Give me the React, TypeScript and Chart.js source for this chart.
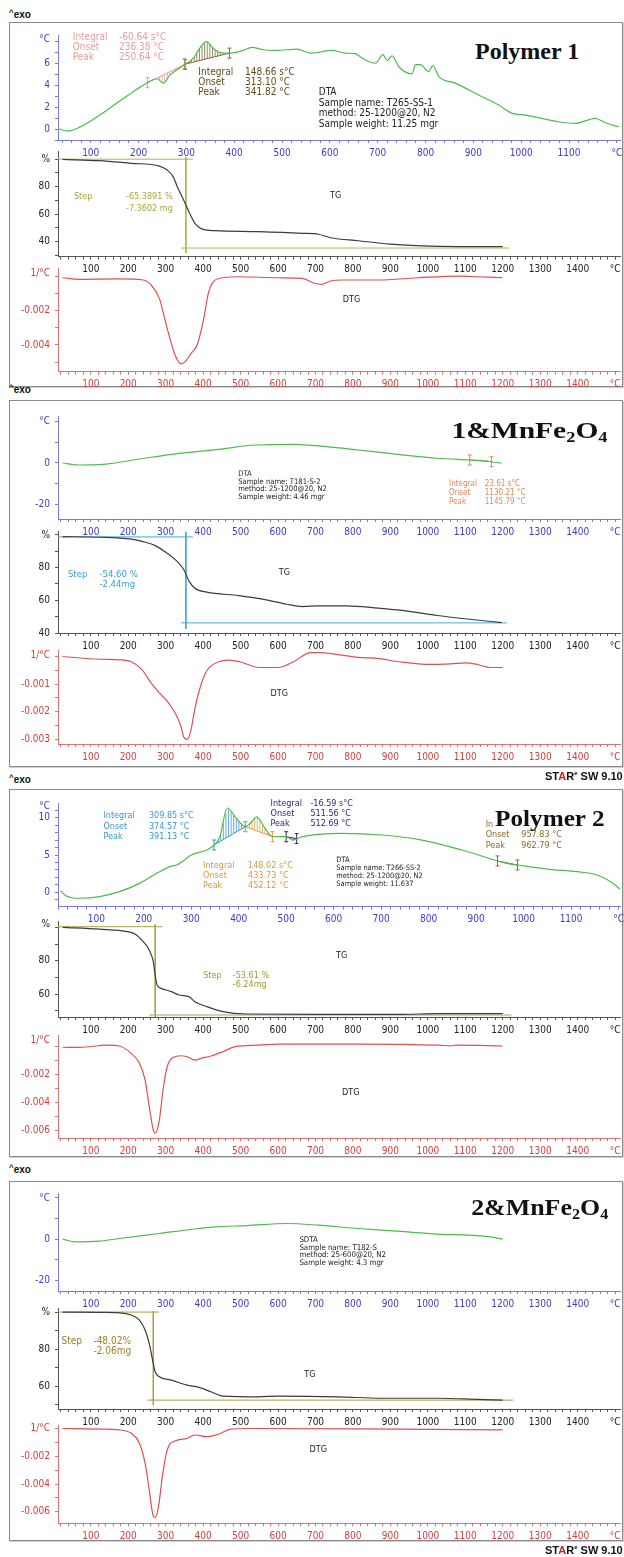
import React, { useEffect, useRef } from 'react';
import { Chart, registerables } from 'chart.js';
Chart.register(...registerables);

type Pt = [number, number];

// ---------------- Panel 1 : Polymer 1 ----------------
const P1_DTA: Pt[] = [[30, 0.06], [53, -0.18], [78, 0.2], [119, 1.28], [154, 2.36], [189, 3.42], [217, 4.2], [238, 4.6], [252, 4.2], [266, 4.95], [280, 5.4], [297, 5.93], [315, 6.5], [328, 7.4], [342, 8.0], [356, 7.4], [370, 7.0], [391, 6.94], [419, 7.2], [437, 7.46], [461, 7.25], [489, 7.2], [510, 7.25], [531, 7.3], [562, 6.94], [604, 7.2], [632, 6.94], [653, 6.9], [667, 6.5], [695, 6.02], [711, 6.8], [720, 6.27], [730, 6.7], [744, 5.7], [772, 5.05], [779, 5.9], [789, 5.9], [807, 5.26], [815, 5.8], [828, 4.8], [862, 4.2], [911, 3.12], [953, 2.2], [981, 1.44], [1009, 1.28], [1043, 0.98], [1078, 0.67], [1113, 0.52], [1155, 0.98], [1176, 0.58], [1204, 0.2]];
const P1_TG: Pt[] = [[25, 99.8], [123, 98.9], [208, 97], [283, 95], [304, 92.1], [320, 87.3], [331, 80], [346, 71.5], [362, 61.8], [378, 53.4], [400, 49], [431, 48], [548, 47.3], [665, 46.1], [708, 45.4], [740, 42.9], [814, 40.7], [899, 38.3], [984, 36.9], [1080, 36.4], [1200, 36.4]];
const P1_DTG: Pt[] = [[25, -0.00008], [70, -0.00017], [176, -0.00015], [240, -0.00021], [261, -0.0005], [283, -0.00128], [304, -0.00303], [325, -0.00458], [341, -0.0051], [352, -0.00497], [368, -0.00449], [384, -0.004], [400, -0.00264], [415, -0.00089], [437, -0.00015], [495, -0.00002], [602, -0.00008], [665, -0.00011], [697, -0.0004], [718, -0.00046], [740, -0.00027], [771, -0.00021], [867, -0.00021], [973, -0.00008], [1080, 0.00002], [1133, -0.00002], [1200, -0.00008]];
const P1_STEP_TOP: Pt[] = [[12.5, 100], [373, 100]];
const P1_STEP_V: Pt[] = [[354, 101.5], [354, 32]];
const P1_STEP_BOT: Pt[] = [[341, 35.4], [1217, 35.4]];

// ---------------- Panel 2 : 1&MnFe2O4 ----------------
const P2_DTA: Pt[] = [[25, 0], [70, -0.97], [134, -0.65], [230, 1.94], [336, 4.7], [442, 6.6], [538, 8.7], [644, 9.0], [729, 7.9], [814, 6.3], [920, 4.2], [1026, 2.3], [1112, 1.45], [1143, 1.1], [1170, 0.6], [1197, -0.16]];
const P2_TG: Pt[] = [[25, 99.0], [123, 98.6], [208, 97.4], [240, 95.9], [272, 93.5], [304, 88.8], [331, 83.7], [349, 78.6], [362, 71.9], [378, 67.4], [410, 65], [495, 62.9], [559, 60.7], [623, 57.6], [665, 56.2], [708, 56.6], [782, 56.6], [867, 55.2], [941, 53.5], [1026, 50.7], [1112, 48.4], [1197, 46.4]];
const P2_DTG: Pt[] = [[25, 0], [124, -0.0001], [177, -0.00012], [208, -0.00019], [235, -0.00045], [262, -0.00098], [285, -0.00135], [305, -0.00164], [326, -0.00207], [340, -0.0025], [349, -0.00295], [358, -0.00301], [367, -0.0027], [379, -0.00183], [395, -0.001], [411, -0.00049], [440, -0.0002], [469, -0.00013], [500, -0.0002], [549, -0.0004], [602, -0.0004], [640, -0.0002], [687, 0.00014], [709, 0.00014], [760, 0.00007], [815, -0.00003], [870, -0.00008], [922, -0.00019], [1007, -0.00029], [1060, -0.00027], [1102, -0.00023], [1135, -0.0003], [1166, -0.0004], [1200, -0.0004]];
const P2_STEP_TOP: Pt[] = [[12.5, 98.8], [373, 98.8]];
const P2_STEP_V: Pt[] = [[354, 102], [354, 42.5]];
const P2_STEP_BOT: Pt[] = [[341, 46.2], [1211, 46.2]];

// ---------------- Panel 3 : Polymer 2 ----------------
const P3_DTA: Pt[] = [[25, 0.2], [36, -0.45], [65, -0.8], [107, -0.58], [149, 0.09], [191, 1.2], [233, 2.76], [258, 3.5], [270, 3.66], [283, 4.2], [300, 5.0], [333, 5.67], [348, 6.34], [360, 7.4], [376, 11.3], [395, 9.9], [414, 8.8], [425, 9.3], [438, 10.1], [455, 8.6], [471, 7.45], [501, 7.45], [513, 7.0], [534, 7.45], [568, 7.77], [618, 7.9], [702, 7.68], [786, 7.0], [870, 5.67], [945, 4.2], [962, 3.9], [987, 3.66], [1054, 3.08], [1113, 2.76], [1155, 2.32], [1188, 1.2], [1205, 0.3]];
const P3_TG: Pt[] = [[25, 100], [123, 98.9], [198, 97.4], [219, 95.9], [240, 91.4], [256, 86.4], [267, 79.4], [272, 71.4], [277, 65.4], [288, 63.4], [315, 61.4], [336, 59.4], [362, 58.4], [378, 55.4], [410, 52.4], [453, 49.4], [516, 48.0], [708, 47.8], [922, 47.8], [1028, 48.2], [1200, 48.2]];
const P3_DTG: Pt[] = [[25, -0.00005], [70, -0.00006], [145, 0.0001], [176, 0.00004], [208, -0.00049], [230, -0.0012], [245, -0.0024], [256, -0.0043], [267, -0.006], [272, -0.0062], [283, -0.0053], [293, -0.0031], [304, -0.00145], [320, -0.00078], [341, -0.00066], [357, -0.00073], [378, -0.00097], [394, -0.00085], [421, -0.00068], [453, -0.00037], [485, -0.00001], [548, 0.0001], [602, 0.00018], [815, 0.00018], [1028, 0.0001], [1060, 0.00005], [1075, 0.0001], [1200, 0.00004]];
const P3_STEP_TOP: Pt[] = [[12.5, 100.4], [291, 100.4]];
const P3_STEP_V: Pt[] = [[272, 101.9], [272, 45.4]];
const P3_STEP_BOT: Pt[] = [[256, 47.4], [1223, 47.4]];

// ---------------- Panel 4 : 2&MnFe2O4 ----------------
const P4_DTA: Pt[] = [[25, 0], [60, -1.3], [123, -0.96], [176, 0.3], [283, 2.7], [389, 5.1], [431, 5.9], [516, 6.5], [623, 7.5], [708, 6.7], [814, 5.1], [920, 3.8], [1026, 2.4], [1112, 1.9], [1165, 1.1], [1200, 0]];
const P4_TG: Pt[] = [[25, 100], [123, 99.8], [176, 99.6], [208, 98.4], [230, 95.7], [245, 90.3], [256, 83.1], [265, 74.1], [272, 67.7], [283, 65], [315, 63.2], [357, 60.5], [389, 59.3], [421, 56.9], [453, 54.6], [548, 54.2], [602, 54.6], [761, 54.2], [878, 53.4], [1028, 53.4], [1133, 52.8], [1200, 52.4]];
const P4_DTG: Pt[] = [[25, 0], [123, -0.00005], [176, -0.0001], [208, -0.00035], [230, -0.00106], [245, -0.0025], [256, -0.0044], [265, -0.0061], [272, -0.0064], [281, -0.0056], [291, -0.00347], [304, -0.00155], [325, -0.0009], [357, -0.00071], [378, -0.00047], [410, -0.00059], [442, -0.0004], [474, -0.00005], [517, 0], [920, -0.00005], [1200, -0.0001]];
const P4_STEP_TOP: Pt[] = [[12.5, 100], [282, 100]];
const P4_STEP_V: Pt[] = [[267, 100.5], [267, 49.7]];
const P4_STEP_BOT: Pt[] = [[251, 52.4], [1228, 52.4]];

// ---------------- axes / ticks ----------------
const range = (a: number, b: number, st: number) => {
  const r: number[] = [];
  for (let v = a; v <= b + 1e-9; v += st) r.push(Math.round(v * 1e6) / 1e6);
  return r;
};
const LABELS_1400 = [100, 200, 300, 400, 500, 600, 700, 800, 900, 1000, 1100, 1200, 1300, 1400];
const LABELS_1100 = [100, 200, 300, 400, 500, 600, 700, 800, 900, 1000, 1100];
type XAx = { min: number; max: number; ticks: number[]; labels: number[]; unitAt: number };
const XB: XAx = { min: 12.5, max: 1513, ticks: range(20, 1500, 20), labels: LABELS_1400, unitAt: 1500 };
const XA1: XAx = { min: 31.6, max: 1206.6, ticks: range(40, 1200, 20), labels: LABELS_1100, unitAt: 1200 };
const XA3: XAx = { min: 19.4, max: 1203, ticks: range(20, 1200, 20), labels: LABELS_1100, unitAt: 1200 };

const DTG_TICKS_6 = [-0.006, -0.005, -0.004, -0.003, -0.002, -0.001, 0];
const DTG_TICKS_5 = [-0.005, -0.004, -0.003, -0.002, -0.001, 0];
const DTG_TICKS_3 = [-0.003, -0.0025, -0.002, -0.0015, -0.001, -0.0005, 0];

const NF = "'DejaVu Sans Condensed', 'DejaVu Sans', sans-serif";
const COL = {
  DTA: { line: '#4cbb4c', axis: '#7878e0', lbl: '#3a3acc' },
  TG: { line: '#3c3c3c', axis: '#555555', lbl: '#222222' },
  DTG: { line: '#e05050', axis: '#e07070', lbl: '#d83c3c' },
};

type Series = { data: Pt[]; color: string; width?: number; smooth?: boolean };
type Note = { x: number; y: number; rows: string[][]; colX?: number; color: string; size: number; lh: number };
type Integ = { from: number; to: number; color: string };
type Sub = {
  kind: 'DTA' | 'TG' | 'DTG'; top: number; bottom: number; x: XAx;
  yMin: number; yMax: number; yTicks: number[]; yLabels: number[]; yUnit: string; yUnitAt: number;
  series: Series[]; notes: Note[]; integ?: Integ[];
};

const stepSeries = (top: Pt[], v: Pt[], bot: Pt[], color: string): Series[] => [
  { data: top, color, width: 1 }, { data: v, color, width: 1 }, { data: bot, color, width: 1 },
];

const SUBS: Sub[] = [
  // ---- panel 1
  {
    kind: 'DTA', top: 35, bottom: 140, x: XA1, yMin: -1, yMax: 8.6, yTicks: range(-1, 8, 1), yLabels: [0, 2, 4, 6], yUnit: '°C', yUnitAt: 8.2,
    series: [{ data: P1_DTA, color: COL.DTA.line, smooth: true }],
    integ: [{ from: 219, to: 297, color: '#e49a9a' }, { from: 297, to: 390, color: '#7a6a30' }],
    notes: [
      { x: 62.4, y: 8.41, colX: 159, rows: [['Integral', '-60.64 s°C'], ['Onset', '236.38 °C'], ['Peak', '250.64 °C']], color: '#e89a9a', size: 10, lh: 10.2 },
      { x: 325, y: 5.2, colX: 422.6, rows: [['Integral', '148.66 s°C'], ['Onset', '313.10 °C'], ['Peak', '341.82 °C']], color: '#5e4c1c', size: 10, lh: 10.2 },
      { x: 576.7, y: 3.33, rows: [['DTA'], ['Sample name: T265-SS-1'], ['method: 25-1200@20, N2'], ['Sample weight: 11.25 mgr']], color: '#222', size: 10, lh: 10.5 },
    ],
  },
  {
    kind: 'TG', top: 151.7, bottom: 256.7, x: XB, yMin: 29.1, yMax: 105.45, yTicks: range(30, 100, 10), yLabels: [40, 60, 80], yUnit: '%', yUnitAt: 100,
    series: [{ data: P1_TG, color: COL.TG.line, smooth: true }, ...stepSeries(P1_STEP_TOP, P1_STEP_V, P1_STEP_BOT, '#b4b450')],
    notes: [
      { x: 55, y: 72.5, colX: 194, rows: [['Step', '-65.3891 %'], ['', '-7.3602 mg']], color: '#a8a83a', size: 9, lh: 12 },
      { x: 739, y: 73.2, rows: [['TG']], color: '#222', size: 9, lh: 10 },
    ],
  },
  {
    kind: 'DTG', top: 268.3, bottom: 371.7, x: XB, yMin: -0.005557, yMax: 0.000472, yTicks: DTG_TICKS_5, yLabels: [-0.002, -0.004], yUnit: '1/°C', yUnitAt: 0.00018,
    series: [{ data: P1_DTG, color: COL.DTG.line, smooth: true }],
    notes: [{ x: 773, y: -0.00134, rows: [['DTG']], color: '#222', size: 9, lh: 10 }],
  },
  // ---- panel 2
  {
    kind: 'DTA', top: 416.7, bottom: 519, x: XB, yMin: -27.1, yMax: 22.4, yTicks: [-20, -10, 0, 10, 20], yLabels: [0, -20], yUnit: '°C', yUnitAt: 20,
    series: [{ data: P2_DTA, color: COL.DTA.line, smooth: true }],
    integ: [{ from: 1112, to: 1170, color: '#e8804a' }],
    notes: [
      { x: 493.5, y: -5.3, rows: [['DTA'], ['Sample name: T181-S-2'], ['method: 25-1200@20, N2'], ['Sample weight: 4.46 mgr']], color: '#222', size: 7.6, lh: 7.6 },
      { x: 1056.6, y: -10, colX: 1152, rows: [['Integral', '23.61 s°C'], ['Onset', '1130.21 °C'], ['Peak', '1145.79 °C']], color: '#e8845a', size: 8, lh: 9 },
    ],
  },
  {
    kind: 'TG', top: 531.7, bottom: 633, x: XB, yMin: 40, yMax: 102, yTicks: range(40, 100, 10), yLabels: [40, 60, 80], yUnit: '%', yUnitAt: 100,
    series: [{ data: P2_TG, color: COL.TG.line, smooth: true }, ...stepSeries(P2_STEP_TOP, P2_STEP_V, P2_STEP_BOT, '#44a8dc')],
    notes: [
      { x: 39, y: 75.5, colX: 123, rows: [['Step', '-54.60 %'], ['', '-2.44mg']], color: '#3aa0d8', size: 9.5, lh: 10 },
      { x: 602, y: 76.8, rows: [['TG']], color: '#222', size: 9, lh: 10 },
    ],
  },
  {
    kind: 'DTG', top: 650, bottom: 744, x: XB, yMin: -0.00318, yMax: 0.000236, yTicks: DTG_TICKS_3, yLabels: [-0.001, -0.002, -0.003], yUnit: '1/°C', yUnitAt: 0.00005,
    series: [{ data: P2_DTG, color: COL.DTG.line, smooth: true }],
    notes: [{ x: 580, y: -0.00134, rows: [['DTG']], color: '#222', size: 9, lh: 10 }],
  },
  // ---- panel 3
  {
    kind: 'DTA', top: 803.3, bottom: 906.7, x: XA3, yMin: -1.93, yMax: 11.93, yTicks: range(-1, 11, 1), yLabels: [0, 5, 10], yUnit: '°C', yUnitAt: 11.5,
    series: [{ data: P3_DTA, color: COL.DTA.line, smooth: true }],
    integ: [
      { from: 348, to: 414, color: '#3a96d0' }, { from: 414, to: 471, color: '#e0a040' },
      { from: 500, to: 522, color: '#2a2a7a' }, { from: 945, to: 987, color: '#8a6a2a' },
    ],
    notes: [
      { x: 115, y: 10.27, colX: 210.9, rows: [['Integral', '309.85 s°C'], ['Onset', '374.57 °C'], ['Peak', '391.13 °C']], color: '#3a96d0', size: 9, lh: 10.5 },
      { x: 467, y: 11.93, colX: 551, rows: [['Integral', '-16.59 s°C'], ['Onset', '511.56 °C'], ['Peak', '512.69 °C']], color: '#2a2a7a', size: 9, lh: 10 },
      { x: 325, y: 3.57, colX: 419.6, rows: [['Integral', '148.02 s°C'], ['Onset', '433.73 °C'], ['Peak', '452.12 °C']], color: '#d89a3a', size: 9, lh: 10 },
      { x: 920, y: 9.1, colX: 995, rows: [['Integral', ''], ['Onset', '957.83 °C'], ['Peak', '962.79 °C']], color: '#8a6a2a', size: 9, lh: 10.7 },
      { x: 605.6, y: 4.33, rows: [['DTA'], ['Sample name: T266-SS-2'], ['method: 25-1200@20, N2'], ['Sample weight: 11.637']], color: '#222', size: 7.4, lh: 8 },
    ],
  },
  {
    kind: 'TG', top: 921.7, bottom: 1017, x: XB, yMin: 46.2, yMax: 103.4, yTicks: range(50, 100, 10), yLabels: [60, 80], yUnit: '%', yUnitAt: 101.8,
    series: [{ data: P3_TG, color: COL.TG.line, smooth: true }, ...stepSeries(P3_STEP_TOP, P3_STEP_V, P3_STEP_BOT, '#aca444')],
    notes: [
      { x: 400, y: 70.8, colX: 479, rows: [['Step', '-53.61 %'], ['', '-6.24mg']], color: '#a09a30', size: 9, lh: 9 },
      { x: 755, y: 82.8, rows: [['TG']], color: '#222', size: 9, lh: 10 },
    ],
  },
  {
    kind: 'DTG', top: 1035, bottom: 1138.3, x: XB, yMin: -0.00659, yMax: 0.00083, yTicks: DTG_TICKS_6, yLabels: [-0.002, -0.004, -0.006], yUnit: '1/°C', yUnitAt: 0.00047,
    series: [{ data: P3_DTG, color: COL.DTG.line, smooth: true }],
    notes: [{ x: 771, y: -0.0033, rows: [['DTG']], color: '#222', size: 9, lh: 10 }],
  },
  // ---- panel 4
  {
    kind: 'DTA', top: 1193.3, bottom: 1291, x: XB, yMin: -24.9, yMax: 22.0, yTicks: [-20, -10, 0, 10, 20], yLabels: [0, -20], yUnit: '°C', yUnitAt: 19.5,
    series: [{ data: P4_DTA, color: COL.DTA.line, smooth: true }],
    notes: [
      { x: 657, y: -0.5, rows: [['SDTA'], ['Sample name: T182-S'], ['method: 25-600@20, N2'], ['Sample weight: 4.3 mgr']], color: '#222', size: 7.8, lh: 7.5 },
    ],
  },
  {
    kind: 'TG', top: 1308, bottom: 1409, x: XB, yMin: 47.6, yMax: 102.2, yTicks: range(50, 100, 10), yLabels: [60, 80], yUnit: '%', yUnitAt: 99.7,
    series: [{ data: P4_TG, color: COL.TG.line, smooth: true }, ...stepSeries(P4_STEP_TOP, P4_STEP_V, P4_STEP_BOT, '#b09a40')],
    notes: [
      { x: 22, y: 84, colX: 107, rows: [['Step', '-48.02%'], ['', '-2.06mg']], color: '#a07c28', size: 10, lh: 10 },
      { x: 670, y: 66, rows: [['TG']], color: '#222', size: 9, lh: 10 },
    ],
  },
  {
    kind: 'DTG', top: 1425, bottom: 1523.3, x: XB, yMin: -0.00682, yMax: 0.00025, yTicks: DTG_TICKS_6, yLabels: [-0.002, -0.004, -0.006], yUnit: '1/°C', yUnitAt: 0,
    series: [{ data: P4_DTG, color: COL.DTG.line, smooth: true }],
    notes: [{ x: 684, y: -0.00155, rows: [['DTG']], color: '#222', size: 9, lh: 10 }],
  },
];

// ---------------- helpers ----------------
function interp(d: Pt[], x: number) {
  if (x <= d[0][0]) return d[0][1];
  for (let i = 0; i < d.length - 1; i++) {
    if (x >= d[i][0] && x <= d[i + 1][0]) {
      const t = (x - d[i][0]) / (d[i + 1][0] - d[i][0] || 1);
      return d[i][1] + t * (d[i + 1][1] - d[i][1]);
    }
  }
  return d[d.length - 1][1];
}

const notesPlugin = (s: Sub) => ({
  id: 'notes',
  beforeDatasetsDraw(chart: any) {
    const { ctx } = chart;
    const xs = chart.scales.x, ys = chart.scales.y;
    const d = s.series[0].data;
    for (const g of s.integ || []) {
      const y0 = interp(d, g.from), y1 = interp(d, g.to);
      const px0 = xs.getPixelForValue(g.from), px1 = xs.getPixelForValue(g.to);
      ctx.save();
      ctx.strokeStyle = g.color;
      ctx.lineWidth = 0.8;
      for (let px = px0 + 1.5; px < px1; px += 2.6) {
        const T = xs.getValueForPixel(px);
        const yc = interp(d, T);
        const yb = y0 + ((y1 - y0) * (T - g.from)) / (g.to - g.from);
        ctx.beginPath();
        ctx.moveTo(px, ys.getPixelForValue(yc));
        ctx.lineTo(px, ys.getPixelForValue(yb));
        ctx.stroke();
      }
      ctx.lineWidth = 1;
      ctx.beginPath();
      ctx.moveTo(px0, ys.getPixelForValue(y0));
      ctx.lineTo(px1, ys.getPixelForValue(y1));
      ctx.stroke();
      for (const [px, v] of [[px0, y0], [px1, y1]] as Pt[]) {
        const py = ys.getPixelForValue(v);
        ctx.beginPath();
        ctx.moveTo(px, py - 5); ctx.lineTo(px, py + 5);
        ctx.moveTo(px - 2, py - 5); ctx.lineTo(px + 2, py - 5);
        ctx.moveTo(px - 2, py + 5); ctx.lineTo(px + 2, py + 5);
        ctx.stroke();
      }
      ctx.restore();
    }
  },
  afterDatasetsDraw(chart: any) {
    const { ctx } = chart;
    const xs = chart.scales.x, ys = chart.scales.y;
    ctx.save();
    ctx.textBaseline = 'middle';
    for (const n of s.notes) {
      ctx.font = `${n.size}px ${NF}`;
      ctx.fillStyle = n.color;
      ctx.textAlign = 'left';
      const px = xs.getPixelForValue(n.x);
      const py0 = ys.getPixelForValue(n.y);
      const cx = n.colX !== undefined ? xs.getPixelForValue(n.colX) : px;
      n.rows.forEach((r, i) => {
        const py = py0 + i * n.lh;
        if (r[0]) ctx.fillText(r[0], px, py);
        if (r[1]) ctx.fillText(r[1], cx, py);
      });
    }
    ctx.font = `10px ${NF}`;
    ctx.fillStyle = COL[s.kind].lbl;
    ctx.textAlign = 'right';
    ctx.fillText(s.yUnit, chart.chartArea.left - 8, ys.getPixelForValue(s.yUnitAt));
    ctx.restore();
  },
});

const PADT = 10;
const XH = 24;

function SubChart({ s }: { s: Sub }) {
  const ref = useRef<HTMLCanvasElement>(null);
  const cTop = Math.round(s.top - PADT);
  const cH = Math.round(s.bottom + XH - cTop);
  const xh = cH - (s.bottom - cTop);
  useEffect(() => {
    const c = COL[s.kind];
    const isDTG = s.kind === 'DTG';
    const font = { family: NF, size: 10 };
    const chart = new Chart(ref.current as HTMLCanvasElement, {
      type: 'line',
      data: {
        datasets: s.series.map((se) => ({
          data: se.data.map(([x, y]) => ({ x, y })),
          borderColor: se.color,
          borderWidth: se.width ?? 1.2,
          pointRadius: 0,
          fill: false,
          tension: se.smooth ? 0.4 : 0,
          cubicInterpolationMode: se.smooth ? 'monotone' : 'default',
        })),
      } as any,
      options: {
        animation: false,
        responsive: false,
        devicePixelRatio: 1,
        events: [],
        layout: { autoPadding: false, padding: { top: s.top - cTop, right: 4, left: 0, bottom: 0 } },
        plugins: { legend: { display: false }, tooltip: { enabled: false } },
        scales: {
          x: {
            type: 'linear', min: s.x.min, max: s.x.max,
            afterBuildTicks: (sc: any) => { sc.ticks = s.x.ticks.map((v) => ({ value: v })); },
            afterFit: (sc: any) => { sc.height = xh; sc.paddingLeft = 0; sc.paddingRight = 0; },
            ticks: {
              autoSkip: false, maxRotation: 0, minRotation: 0, color: c.lbl, font, padding: 4,
              callback: (v: any) => (v === s.x.unitAt ? '°C' : s.x.labels.includes(v) ? String(v) : ''),
            },
            grid: { drawOnChartArea: false, drawTicks: true, tickLength: 3, tickColor: c.axis },
            border: { display: true, color: c.axis, width: 1 },
          },
          y: {
            type: 'linear', min: s.yMin, max: s.yMax,
            afterBuildTicks: (sc: any) => { sc.ticks = s.yTicks.map((v) => ({ value: v })); },
            afterFit: (sc: any) => { sc.width = 58; sc.paddingTop = 0; sc.paddingBottom = 0; },
            ticks: {
              autoSkip: false, color: c.lbl, font, padding: 5,
              callback: (v: any) => (s.yLabels.includes(v) ? (isDTG ? Number(v).toFixed(3) : String(v)) : ''),
            },
            grid: { drawOnChartArea: false, drawTicks: true, tickLength: 3, tickColor: c.axis },
            border: { display: true, color: c.axis, width: 1 },
          },
        },
      } as any,
      plugins: [notesPlugin(s) as any],
    });
    return () => chart.destroy();
  }, []);
  return (
    <canvas
      ref={ref}
      width={624}
      height={cH}
      style={{ position: 'absolute', left: 0, top: cTop, width: 624, height: cH, display: 'block' }}
    />
  );
}

// ---------------- decorations ----------------
const FRAMES = [[22, 387], [400, 767], [789, 1157], [1181, 1541]];
const EXO_Y = [9, 384, 774, 1164];
const STAR_Y = [770, 1544];

const subStyle: React.CSSProperties = { fontSize: '0.62em', verticalAlign: '-0.28em', lineHeight: 0 };

function Title({ left, top, sx, lh = 28, children }: { left: number; top: number; sx: number; lh?: number; children: React.ReactNode }) {
  return (
    <div
      style={{
        position: 'absolute', left, top, font: "bold 24px 'Liberation Serif', 'Times New Roman', serif",
        lineHeight: lh + 'px', background: '#fff', padding: '0 2px', whiteSpace: 'nowrap',
        transform: `scaleX(${sx})`, transformOrigin: 'left center', color: '#111',
      }}
    >
      {children}
    </div>
  );
}

export default function App() {
  return (
    <div style={{ position: 'absolute', left: 0, top: 0, width: 624, height: 1557, overflow: 'hidden', background: '#fff' }}>
      {FRAMES.map(([t, b], i) => (
        <div key={'f' + i} style={{ position: 'absolute', left: 9, top: t, width: 614, height: b - t, border: '1px solid #8a8a8a', boxShadow: '1px 1px 0 #cfcfcf', boxSizing: 'border-box' }} />
      ))}
      {EXO_Y.map((y, i) => (
        <div key={'e' + i} style={{ position: 'absolute', left: 9, top: y, font: "bold 10px 'Liberation Sans', Arial, sans-serif", color: '#111', whiteSpace: 'nowrap' }}>
          <span style={{ fontSize: 8, position: 'relative', top: -3 }}>^</span>exo
        </div>
      ))}
      {SUBS.map((s, i) => (
        <SubChart key={i} s={s} />
      ))}
      <Title left={473} top={37} sx={1}>Polymer 1</Title>
      <Title left={449} top={416} sx={1.23}>{'1&MnFe'}<sub style={subStyle}>2</sub>O<sub style={subStyle}>4</sub></Title>
      <Title left={493} top={807} sx={1.05} lh={23}>Polymer 2</Title>
      <Title left={469} top={1193} sx={1.08}>{'2&MnFe'}<sub style={subStyle}>2</sub>O<sub style={subStyle}>4</sub></Title>
      {STAR_Y.map((y, i) => (
        <div key={'s' + i} style={{ position: 'absolute', left: 545, top: y, font: "bold 11px 'Liberation Sans', Arial, sans-serif", color: '#111', whiteSpace: 'nowrap' }}>
          ST<span style={{ color: '#d02020' }}>A</span>R<sup style={{ fontSize: 6 }}>e</sup> SW 9.10
        </div>
      ))}
    </div>
  );
}
